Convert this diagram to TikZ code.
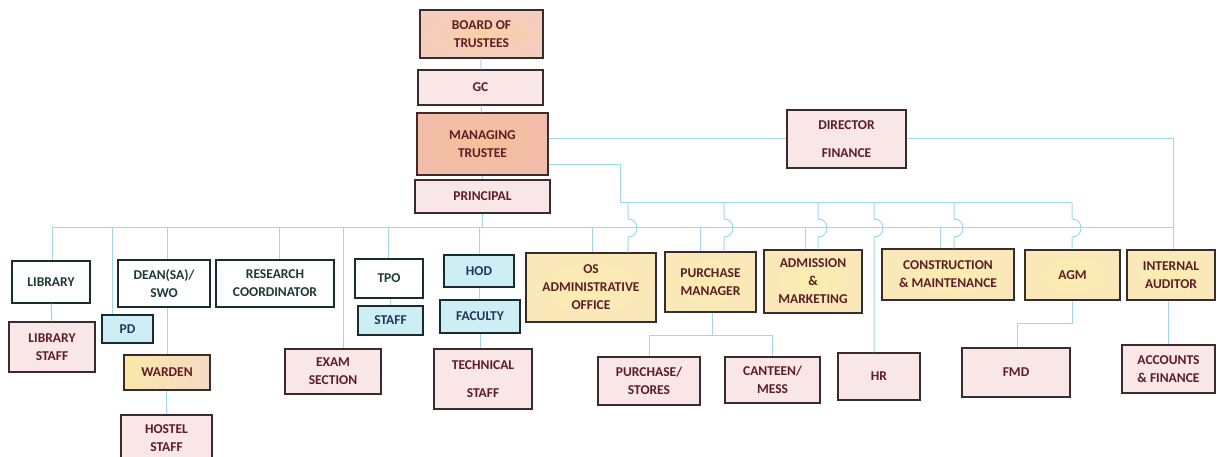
\documentclass[tikz,border=0pt]{standalone}
\usepackage{fontspec}
\setmainfont{Carlito}[BoldFont={Carlito Bold}]
\definecolor{edge}{HTML}{3A2C2C}
\definecolor{conncol}{HTML}{9ED8EC}
\definecolor{maroon}{HTML}{5E1C26}
\definecolor{slate}{HTML}{1E3838}
\definecolor{navy}{HTML}{203660}
\definecolor{pinkfill}{HTML}{F9E6E6}
\definecolor{cyanfill}{HTML}{CDEEF5}
\definecolor{orin}{HTML}{F8D0A4}
\definecolor{orout}{HTML}{F5CDBE}
\definecolor{mtin}{HTML}{F6C096}
\definecolor{mtout}{HTML}{F3BDAA}
\definecolor{yein}{HTML}{FBEDAC}
\definecolor{yeout}{HTML}{FAE8BA}
\definecolor{wardl}{HTML}{F8E8A8}
\definecolor{wardr}{HTML}{F6DAC6}
\tikzset{
  box/.style={draw=edge, line width=1.3pt, inner sep=0pt, align=center,
    font=\fontsize{13.5}{18}\selectfont\bfseries, text=maroon},
  orangebox/.style={box, inner color=orin, outer color=orout},
  mtbox/.style={box, inner color=mtin, outer color=mtout},
  pinkbox/.style={box, fill=pinkfill},
  yellowbox/.style={box, inner color=yein, outer color=yeout},
  wardbox/.style={box, left color=wardl, right color=wardr},
  whitebox/.style={box, fill=white, draw=slate!80!black, text=slate},
  cyanbox/.style={box, fill=cyanfill, text=navy, draw=slate!80!black},
  conn/.style={draw=conncol, line width=1pt}
}
\newcommand\bx[7]{\node[#6, minimum width={(#4-#2)*1pt}, minimum height={(#5-#3)*1pt}] (#1) at ({(#2+#4)/2},{(#3+#5)/2}) {#7};}
\newcommand\busdrop[2]{\draw[conn] (#1,228) -- (#1,0 |- #2.north);}
\newcommand\hopdrop[2]{\draw[conn] (#1,203) -- (#1,219) .. controls (#1+12,219) and (#1+12,237) .. (#1,237) -- (#1,0 |- #2.north);}
\begin{document}
\begin{tikzpicture}[x=1pt,y=-1pt]
\useasboundingbox (0,0) rectangle (1224,457);
\fill[white] (0,0) rectangle (1224,457);
% top column
\bx{bot}{420}{10}{543}{58}{orangebox}{BOARD OF\\TRUSTEES}
\bx{gc}{418}{70}{543}{105}{pinkbox}{GC}
\bx{mt}{417}{113}{548}{175}{mtbox}{MANAGING\\TRUSTEE}
\bx{prin}{415}{180}{550}{213}{pinkbox}{PRINCIPAL}
\bx{dir}{787}{110}{906}{168}{pinkbox}{DIRECTOR\\[10pt]FINANCE}
% row of units
\bx{lib}{12}{261}{90}{303}{whitebox}{LIBRARY}
\bx{dean}{118}{260}{210}{307}{whitebox}{DEAN(SA)/\\SWO}
\bx{res}{216}{260}{334}{307}{whitebox}{RESEARCH\\COORDINATOR}
\bx{tpo}{355}{259}{423}{298}{whitebox}{\raisebox{-3pt}{TPO}}
\bx{tstaff}{358}{306}{423}{335}{cyanbox}{STAFF}
\bx{hod}{444}{255}{514}{287}{cyanbox}{HOD}
\bx{fac}{440}{300}{520}{333}{cyanbox}{FACULTY}
\bx{pd}{102}{315}{153}{343}{cyanbox}{PD}
\bx{libst}{9}{322}{95}{372}{pinkbox}{LIBRARY\\STAFF}
\bx{ward}{124}{355}{210}{390}{wardbox}{WARDEN}
\bx{host}{121}{415}{212}{462}{pinkbox}{HOSTEL\\STAFF}
\bx{exam}{285}{349}{381}{394}{pinkbox}{EXAM\\SECTION}
\bx{tech}{434}{349}{532}{409}{pinkbox}{TECHNICAL\\[10pt]STAFF}
\bx{os}{526}{253}{656}{322}{yellowbox}{OS\\ADMINISTRATIVE\\OFFICE}
\bx{pm}{665}{252}{756}{312}{yellowbox}{PURCHASE\\MANAGER}
\bx{adm}{764}{250}{862}{313}{yellowbox}{ADMISSION\\\&\\MARKETING}
\bx{con}{882}{249}{1014}{300}{yellowbox}{CONSTRUCTION\\\& MAINTENANCE}
\bx{agm}{1025}{250}{1120}{300}{yellowbox}{AGM}
\bx{ia}{1127}{250}{1215}{300}{yellowbox}{INTERNAL\\AUDITOR}
\bx{ps}{598}{357}{700}{405}{pinkbox}{PURCHASE/\\STORES}
\bx{cm}{725}{357}{820}{403}{pinkbox}{CANTEEN/\\MESS}
\bx{hr}{838}{353}{920}{400}{pinkbox}{HR}
\bx{fmd}{962}{348}{1070}{397}{pinkbox}{FMD}
\bx{af}{1122}{345}{1215}{393}{pinkbox}{ACCOUNTS\\\& FINANCE}
% connectors: top column
\draw[conn] (bot) -- (gc);
\draw[conn] (gc) -- (mt);
\draw[conn] (mt) -- (prin);
% director line
\coordinate (dc) at (1173,139);
\draw[conn] (mt.east |- dir.west) -- (dir.west);
\draw[conn] (dir.east) -- (dc) -- (dc |- ia.north);
% second line to upper bus
\draw[conn] (mt.east |- 0,165) -- (620,165) -- (620,203) -- (1072,203);
% main bus
\draw[conn] (52,228) -- (1173,228);
\draw[conn] (prin.south) -- (prin.south |- 0,228);
\draw[conn] (hod.north |- 0,228) -- (hod.north);
\busdrop{52}{lib}
\busdrop{112}{pd}
\busdrop{167}{dean}
\busdrop{279}{res}
\busdrop{343}{exam}
\busdrop{388}{tpo}
\busdrop{592}{os}
\busdrop{700}{pm}
\busdrop{805}{adm}
\busdrop{940}{con}
% upper bus drops hopping over main bus
\hopdrop{628}{os}
\hopdrop{724}{pm}
\hopdrop{818}{adm}
\hopdrop{874}{hr}
\hopdrop{954}{con}
\hopdrop{1072}{agm}
% sub-units
\draw[conn] (lib) -- (libst);
\draw[conn] (ward.north |- dean.south) -- (ward.north);
\draw[conn] (host.north |- ward.south) -- (host.north);
\draw[conn] (tstaff.north |- tpo.south) -- (tstaff.north);
\draw[conn] (fac.north -| hod.south) -- (hod.south);
\draw[conn] (fac.south) -- (fac.south |- tech.north);
\draw[conn] (712,0 |- pm.south) -- (712,335);
\draw[conn] (ps.north |- 0,335) -- (cm.north |- 0,335);
\draw[conn] (ps.north |- 0,335) -- (ps.north);
\draw[conn] (cm.north |- 0,335) -- (cm.north);
\draw[conn] (1072,0 |- agm.south) -- (1072,323) -- (1017,323) -- (1017,0 |- fmd.north);
\draw[conn] (af.north |- ia.south) -- (af.north);
\end{tikzpicture}
\end{document}
